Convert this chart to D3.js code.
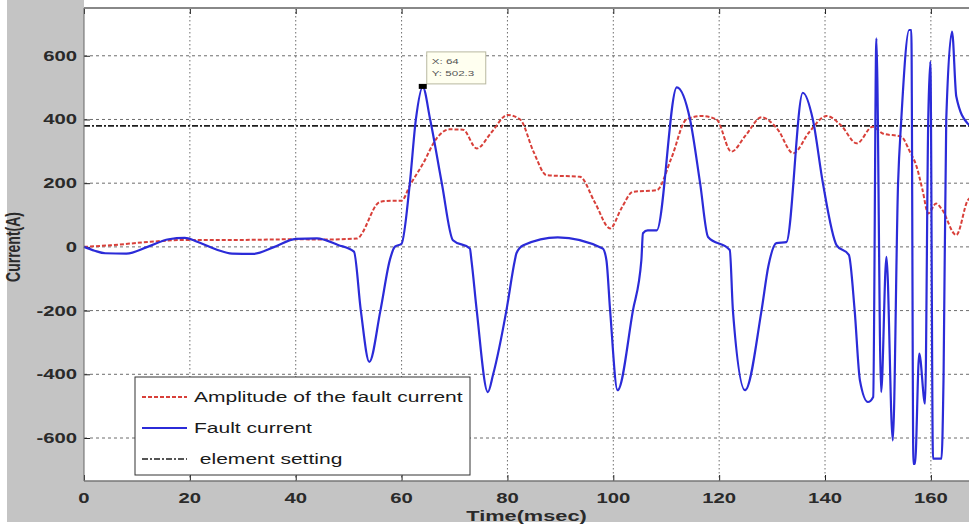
<!DOCTYPE html>
<html><head><meta charset="utf-8">
<script src="https://cdn.jsdelivr.net/npm/d3@7/dist/d3.min.js"></script>
<style>html,body{margin:0;padding:0;background:#fff;}svg{display:block;}</style>
</head><body>
<script>
// ---- data ----
const xTicks = [0,20,40,60,80,100,120,140,160];
const yTicks = [-600,-400,-200,0,200,400,600];
const settingValue = 380;
const faultT = [0,2,4,8,12,16,19,22,25,28,32,36,40,44,48,51,52.3,53.9,56,57.8,58.7,60,61.5,62.7,64,65.4,67.6,69.7,72.9,73.2,74.2,76.3,77.3,79.8,81.4,81.7,83,89.5,98,98.7,99.4,100.8,103.7,105.3,105.6,106.5,108.2,112,114.5,116.4,117.9,122,122.6,124.9,128,129.3,130.8,132.7,135.8,137.7,139.6,142.2,144.5,145.6,146.6,148.1,149.1,149.7,150.6,151.6,152.8,153.8,154.4,155.9,156.3,156.7,157.0,157.8,158.9,159.5,159.9,160.4,162.0,162.4,162.9,164,164.8,166.9,167.5];
const faultI = [0,-12,-20,-21,0,24,28,12,-8,-21,-22,0,25,27,6,-15,-200,-361,-200,-40,0,10,190,400,502,400,200,21,-5,-42,-200,-456,-400,-200,-42,-20,5,30,-5,-42,-200,-450,-200,-42,43,52,52,501,400,200,31,-10,-200,-450,-200,-60,12,15,484,400,200,5,-25,-200,-420,-487,-471,655,-456,-31,-608,200,398,681,681,-681,-681,-335,-492,400,582,-665,-665,-400,398,676,472,388,380];
const ampT = [0,5,12.5,19.4,30,40,45,51.5,55.9,58,60,61.6,64,66.6,69,71.6,74.2,77,80,82.4,84.9,87.4,93.7,96.5,99.4,101.5,103.7,108.2,111,113.8,116.7,119.5,122.3,125,128,131,134,137,140.3,143,146,149,150.9,154.4,156,157.3,158.4,159.5,161,162,164.8,167,167.5];
const ampI = [0,5,16,22,22,24,23,26,141,145,145,194,260,340,369,368,309,360,414,400,300,225,220,140,58,120,173,178,280,400,411,400,299,350,407,370,294,360,411,382,325,377,356,346,300,252,180,105,136,120,37,147,155];
const tipX = 64, tipY = 502.3;
const legendLabels = ["Amplitude of the fault current","Fault current"," element setting"];

// ---- layout ----
const W = 969, H = 526;
const L = 84, T = 8, R = 969, B = 481;
const SX = 1.45; // horizontal text stretch seen in the reference
const svg = d3.select("body").append("svg").attr("width", W).attr("height", H);

svg.append("rect").attr("x",7).attr("y",0).attr("width",W-7).attr("height",522).attr("fill","#c4c4c4");
svg.append("rect").attr("x",L).attr("y",0).attr("width",R-L).attr("height",T).attr("fill","#fff");

const x = d3.scaleLinear().domain([0,167.2]).range([L,R]);
const y = d3.scaleLinear().domain([-735,750]).range([B,T]);

svg.append("rect").attr("x",L).attr("y",T).attr("width",R-L).attr("height",B-T).attr("fill","#fff");

function stext(g, tx, ty, str, size, anchor, weight, rot, color){
  const t = g.append("text")
    .attr("transform", `translate(${tx},${ty}) scale(${SX},1)` + (rot? ` rotate(${rot})` : ""))
    .attr("font-family","Liberation Sans, Arial, sans-serif")
    .attr("font-size", size).attr("font-weight", weight||"normal")
    .attr("fill",color||"#1a1a1a").attr("text-anchor", anchor||"start").text(str);
  return t;
}

// grid
const grid = svg.append("g");
grid.selectAll("line.h").data(yTicks).join("line")
  .attr("x1",L).attr("x2",R).attr("y1",d=>y(d)).attr("y2",d=>y(d))
  .attr("stroke","#555").attr("stroke-width",1).attr("stroke-dasharray","3,3").attr("opacity",0.85);
grid.selectAll("line.v").data(xTicks.filter(d=>d>0)).join("line")
  .attr("x1",d=>x(d)).attr("x2",d=>x(d)).attr("y1",T).attr("y2",B)
  .attr("stroke","#555").attr("stroke-width",1).attr("stroke-dasharray","1.5,2.5").attr("opacity",0.85);

// ticks (inward)
const axisB = d3.axisBottom(x).tickValues(xTicks).tickSize(-6).tickFormat("");
const axisT = d3.axisTop(x).tickValues(xTicks).tickSize(-6).tickFormat("");
const axisLft = d3.axisLeft(y).tickValues(yTicks).tickSize(-6).tickFormat("");
[[axisB,`translate(0,${B})`],[axisT,`translate(0,${T})`],[axisLft,`translate(${L},0)`]].forEach(([a,tr])=>{
  const g = svg.append("g").attr("transform",tr).call(a);
  g.select(".domain").remove();
  g.selectAll("line").attr("stroke","#222");
});

// element setting line
svg.append("line").attr("x1",L).attr("x2",R).attr("y1",y(settingValue)).attr("y2",y(settingValue))
  .attr("stroke","#1e1e1e").attr("stroke-width",1.6).attr("stroke-dasharray","6,2,2,2");

// amplitude
const lineA = d3.line().x((d,i)=>x(ampT[i])).y(d=>y(d)).curve(d3.curveMonotoneX);
svg.append("path").attr("d", lineA(ampI)).attr("fill","none")
  .attr("stroke","#d8403a").attr("stroke-width",2).attr("stroke-dasharray","4,2");

// fault current
const lineF = d3.line().x((d,i)=>x(faultT[i])).y(d=>y(d)).curve(d3.curveMonotoneX);
svg.append("path").attr("d", lineF(faultI)).attr("fill","none")
  .attr("stroke","#2b2bd8").attr("stroke-width",2.2).attr("stroke-linejoin","round");

// frame
svg.append("line").attr("x1",L).attr("x2",R).attr("y1",T).attr("y2",T).attr("stroke","#888").attr("stroke-width",2);
svg.append("line").attr("x1",L).attr("x2",L).attr("y1",T).attr("y2",B).attr("stroke","#666").attr("stroke-width",1);
svg.append("line").attr("x1",L).attr("x2",R).attr("y1",B).attr("y2",B).attr("stroke","#777").attr("stroke-width",1.5);

// tick labels
const lab = svg.append("g");
yTicks.forEach(v=>stext(lab, 77, y(v)+5, String(v), 14, "end", "bold", 0, "#2a2a2a"));
xTicks.forEach(v=>stext(lab, x(v), 503, String(v), 14, "middle", "bold", 0, "#2a2a2a"));
stext(lab, (L+R)/2, 521, "Time(msec)", 15, "middle", "bold", 0, "#2a2a2a");
stext(lab, 20, 247, "Current(A)", 14, "middle", "bold", -90, "#2a2a2a");

// datatip
const tip = svg.append("g");
tip.append("rect").attr("x", x(tipX)+4).attr("y", y(tipY)-35).attr("width",59).attr("height",32)
  .attr("fill","#fffff0").attr("stroke","#b8b8a0").attr("stroke-width",1);
stext(tip, x(tipX)+9, y(tipY)-23, "X: 64", 8, "start", "normal", 0, "#555");
stext(tip, x(tipX)+9, y(tipY)-11, "Y: 502.3", 8, "start", "normal", 0, "#555");
tip.append("rect").attr("x", x(tipX)-4).attr("y", y(tipY)-3).attr("width",8).attr("height",5).attr("fill","#000");

// legend
const lg = svg.append("g");
lg.append("rect").attr("x",135).attr("y",377).attr("width",335).attr("height",98)
  .attr("fill","#fff").attr("stroke","#333").attr("stroke-width",1);
const rows = [397,428,459];
const styles = [
  {c:"#d8403a", w:2, d:"4,2"},
  {c:"#2b2bd8", w:2.2, d:null},
  {c:"#1e1e1e", w:1.6, d:"6,2,2,2"}];
rows.forEach((ry,i)=>{
  const l = lg.append("line").attr("x1",142).attr("x2",187).attr("y1",ry).attr("y2",ry)
    .attr("stroke",styles[i].c).attr("stroke-width",styles[i].w);
  if (styles[i].d) l.attr("stroke-dasharray",styles[i].d);
  stext(lg, 194, ry+5, legendLabels[i], 14.5, "start").attr("xml:space","preserve").style("white-space","pre");
});
</script>
</body></html>
